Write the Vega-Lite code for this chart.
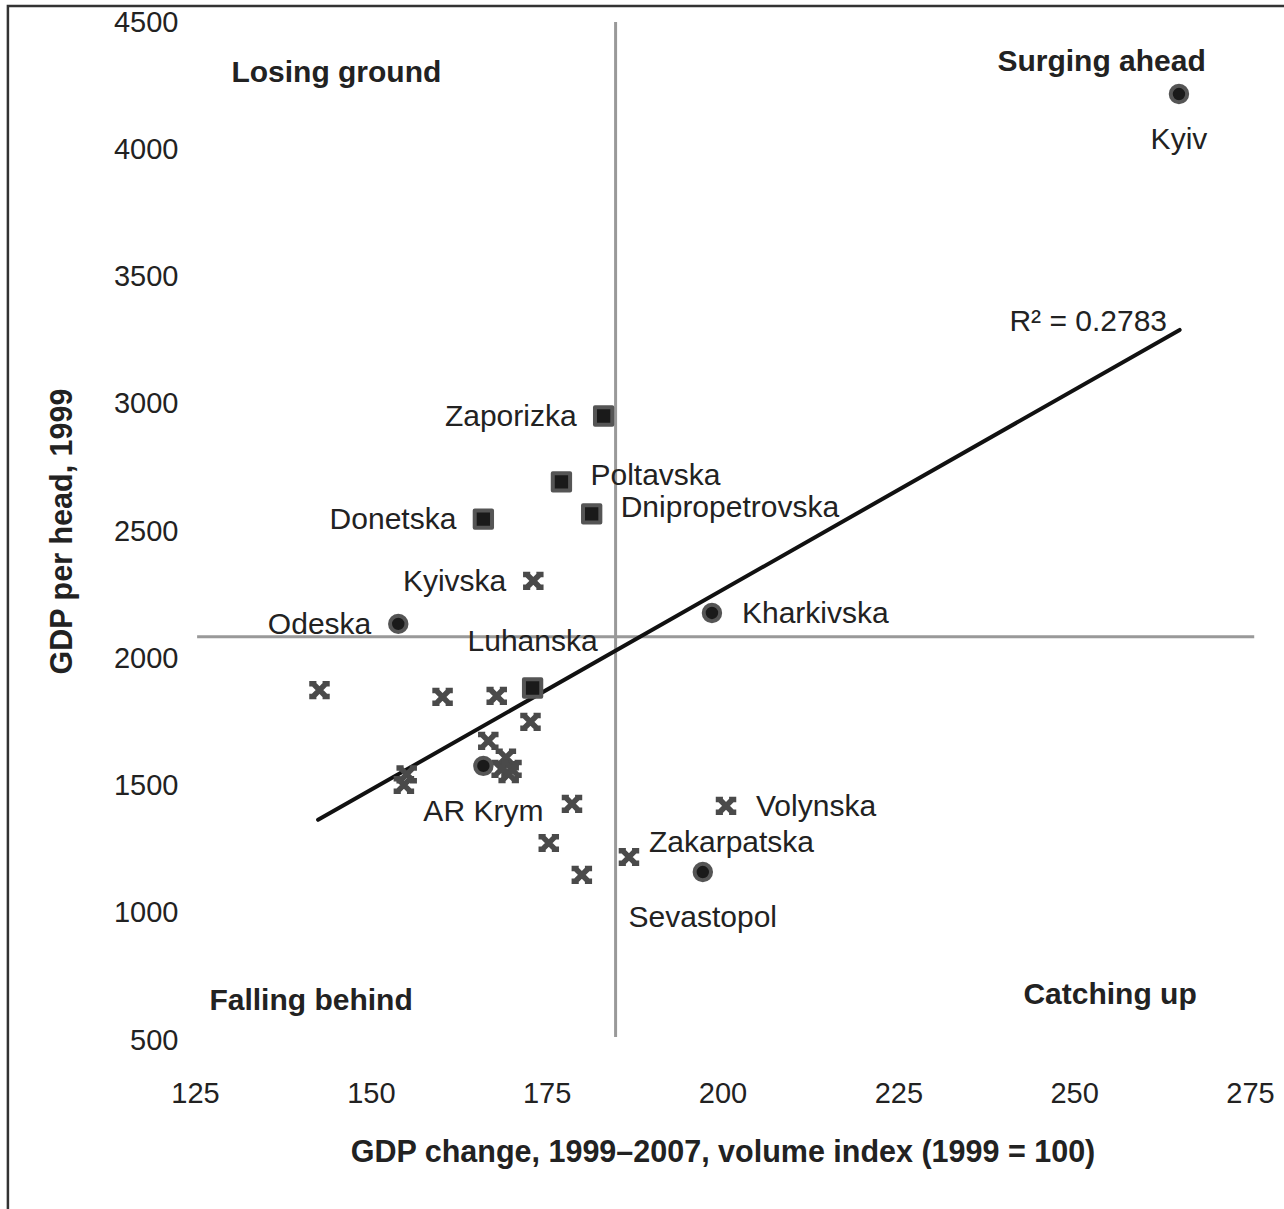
{
  "$schema": "https://vega.github.io/schema/vega-lite/v6.json",
  "width": 1055,
  "height": 1018,
  "autosize": "none",
  "padding": {"left": 195, "top": 22, "right": 34, "bottom": 169},
  "background": "white",
  "config": {
    "view": {"stroke": null},
    "font": "Liberation Sans",
    "axis": {"domain": false, "ticks": false, "tickSize": 0, "grid": false, "labelFlush": false, "labelOverlap": false, "labelBound": false, "format": "d", "labelFont": "Liberation Sans", "labelFontSize": 29, "labelColor": "#222", "titleFont": "Liberation Sans", "titleFontSize": 30.5, "titleFontWeight": "bold", "titleColor": "#222"}
  },
  "datasets": {
    "regions": [
      {"region": "Kyiv", "type": "circle", "growth": 264.9, "gdp": 4217, "pos": "below"},
      {"region": "Zaporizka", "type": "square", "growth": 183.1, "gdp": 2952, "pos": "left"},
      {"region": "Poltavska", "type": "square", "growth": 177.1, "gdp": 2693, "pos": "upright"},
      {"region": "Dnipropetrovska", "type": "square", "growth": 181.4, "gdp": 2567, "pos": "upright"},
      {"region": "Donetska", "type": "square", "growth": 166.0, "gdp": 2547, "pos": "left"},
      {"region": "Kyivska", "type": "star", "growth": 173.1, "gdp": 2304, "pos": "left"},
      {"region": "Odeska", "type": "circle", "growth": 153.9, "gdp": 2135, "pos": "left"},
      {"region": "Kharkivska", "type": "circle", "growth": 198.5, "gdp": 2178, "pos": "right"},
      {"region": "Luhanska", "type": "square", "growth": 173.0, "gdp": 1883, "pos": "above"},
      {"region": "AR Krym", "type": "circle", "growth": 166.0, "gdp": 1577, "pos": "below"},
      {"region": "Volynska", "type": "star", "growth": 200.5, "gdp": 1420, "pos": "right"},
      {"region": "Zakarpatska", "type": "star", "growth": 186.7, "gdp": 1219, "pos": "upright2"},
      {"region": "Sevastopol", "type": "circle", "growth": 197.2, "gdp": 1160, "pos": "below"},
      {"region": "", "type": "star", "growth": 142.7, "gdp": 1875, "pos": "none"},
      {"region": "", "type": "star", "growth": 160.2, "gdp": 1848, "pos": "none"},
      {"region": "", "type": "star", "growth": 167.9, "gdp": 1852, "pos": "none"},
      {"region": "", "type": "star", "growth": 172.7, "gdp": 1750, "pos": "none"},
      {"region": "", "type": "star", "growth": 166.7, "gdp": 1675, "pos": "none"},
      {"region": "", "type": "star", "growth": 169.2, "gdp": 1610, "pos": "none"},
      {"region": "", "type": "star", "growth": 168.6, "gdp": 1565, "pos": "none"},
      {"region": "", "type": "star", "growth": 170.0, "gdp": 1565, "pos": "none"},
      {"region": "", "type": "star", "growth": 169.6, "gdp": 1545, "pos": "none"},
      {"region": "", "type": "star", "growth": 155.1, "gdp": 1544, "pos": "none"},
      {"region": "", "type": "star", "growth": 154.7, "gdp": 1502, "pos": "none"},
      {"region": "", "type": "star", "growth": 178.6, "gdp": 1428, "pos": "none"},
      {"region": "", "type": "star", "growth": 175.3, "gdp": 1274, "pos": "none"},
      {"region": "", "type": "star", "growth": 180.0, "gdp": 1149, "pos": "none"}
    ],
    "refs": [
      {"x1": 184.8, "x2": 184.8, "y1": 512, "y2": 4500},
      {"x1": 125.3, "x2": 275.6, "y1": 2084, "y2": 2084}
    ],
    "fit": [
      {"x1": 142.5, "x2": 265.0, "y1": 1365, "y2": 3290}
    ],
    "frame": [
      {"x1": 98.4, "x2": 292, "y1": -300, "y2": 4563}
    ],
    "quadrants": [
      {"label": "Losing ground", "growth": 145.1, "gdp": 4300},
      {"label": "Surging ahead", "growth": 253.9, "gdp": 4343},
      {"label": "Falling behind", "growth": 141.5, "gdp": 653},
      {"label": "Catching up", "growth": 255.1, "gdp": 677}
    ],
    "notes": [
      {"label": "R² = 0.2783", "growth": 263.2, "gdp": 3321}
    ]
  },
  "encoding": {
    "x": {"type": "quantitative", "scale": {"domain": [125, 275], "nice": false, "zero": false}, "title": "GDP change, 1999–2007, volume index (1999 = 100)", "axis": {"values": [125, 150, 175, 200, 225, 250, 275], "labelBaseline": "middle", "labelPadding": 53, "titleBaseline": "middle", "titleY": 112}},
    "y": {"type": "quantitative", "scale": {"domain": [500, 4500], "nice": false, "zero": false}, "title": "GDP per head, 1999", "axis": {"values": [500, 1000, 1500, 2000, 2500, 3000, 3500, 4000, 4500], "labelPadding": 17, "titleAngle": -90, "titleX": -133, "titleY": 509, "titleAlign": "center", "titleBaseline": "middle"}}
  },
  "layer": [
    {
      "data": {"name": "frame"},
      "mark": {"type": "rect", "fill": null, "stroke": "#333", "strokeWidth": 2.5},
      "encoding": {
        "x": {"field": "x1"},
        "x2": {"field": "x2"},
        "y": {"field": "y1"},
        "y2": {"field": "y2"}
      }
    },
    {
      "data": {"name": "refs"},
      "mark": {"type": "rule", "stroke": "#999", "strokeWidth": 3},
      "encoding": {
        "x": {"field": "x1"},
        "x2": {"field": "x2"},
        "y": {"field": "y1"},
        "y2": {"field": "y2"}
      }
    },
    {
      "data": {"name": "fit"},
      "mark": {"type": "rule", "stroke": "#111", "strokeWidth": 4, "strokeCap": "round"},
      "encoding": {
        "x": {"field": "x1"},
        "x2": {"field": "x2"},
        "y": {"field": "y1"},
        "y2": {"field": "y2"}
      }
    },
    {
      "data": {"name": "regions"},
      "transform": [{"filter": "datum.type == 'star'"}],
      "mark": {"type": "point", "filled": false, "shape": "M-0.6,-0.6L0.6,0.6M0.6,-0.6L-0.6,0.6M-1,-0.62H-0.3M0.3,-0.62H1M-1,0.62H-0.3M0.3,0.62H1", "size": 420, "stroke": "#4a4a4a", "strokeWidth": 5.5, "opacity": 1},
      "encoding": {
        "x": {"field": "growth"},
        "y": {"field": "gdp"}
      }
    },
    {
      "data": {"name": "regions"},
      "transform": [{"filter": "datum.type == 'circle'"}],
      "mark": {"type": "point", "filled": true, "shape": "circle", "size": 270, "fill": "#1a1a1a", "stroke": "#555", "strokeWidth": 4, "opacity": 1},
      "encoding": {
        "x": {"field": "growth"},
        "y": {"field": "gdp"}
      }
    },
    {
      "data": {"name": "regions"},
      "transform": [{"filter": "datum.type == 'square'"}],
      "mark": {"type": "point", "filled": true, "shape": "square", "size": 300, "fill": "#1a1a1a", "stroke": "#555", "strokeWidth": 4, "strokeJoin": "round", "opacity": 1},
      "encoding": {
        "x": {"field": "growth"},
        "y": {"field": "gdp"}
      }
    },
    {
      "data": {"name": "regions"},
      "transform": [{"filter": "datum.pos == 'left'"}],
      "mark": {"type": "text", "align": "right", "baseline": "middle", "dx": -27, "dy": 1, "fontSize": 30, "color": "#222"},
      "encoding": {
        "x": {"field": "growth"},
        "y": {"field": "gdp"},
        "text": {"field": "region"}
      }
    },
    {
      "data": {"name": "regions"},
      "transform": [{"filter": "datum.pos == 'right'"}],
      "mark": {"type": "text", "align": "left", "baseline": "middle", "dx": 30, "dy": 1, "fontSize": 30, "color": "#222"},
      "encoding": {
        "x": {"field": "growth"},
        "y": {"field": "gdp"},
        "text": {"field": "region"}
      }
    },
    {
      "data": {"name": "regions"},
      "transform": [{"filter": "datum.pos == 'upright'"}],
      "mark": {"type": "text", "align": "left", "baseline": "middle", "dx": 29, "dy": -6, "fontSize": 30, "color": "#222"},
      "encoding": {
        "x": {"field": "growth"},
        "y": {"field": "gdp"},
        "text": {"field": "region"}
      }
    },
    {
      "data": {"name": "regions"},
      "transform": [{"filter": "datum.pos == 'upright2'"}],
      "mark": {"type": "text", "align": "left", "baseline": "middle", "dx": 20, "dy": -14, "fontSize": 30, "color": "#222"},
      "encoding": {
        "x": {"field": "growth"},
        "y": {"field": "gdp"},
        "text": {"field": "region"}
      }
    },
    {
      "data": {"name": "regions"},
      "transform": [{"filter": "datum.pos == 'below'"}],
      "mark": {"type": "text", "align": "center", "baseline": "middle", "dy": 46, "fontSize": 30, "color": "#222"},
      "encoding": {
        "x": {"field": "growth"},
        "y": {"field": "gdp"},
        "text": {"field": "region"}
      }
    },
    {
      "data": {"name": "regions"},
      "transform": [{"filter": "datum.pos == 'above'"}],
      "mark": {"type": "text", "align": "center", "baseline": "middle", "dy": -46, "fontSize": 30, "color": "#222"},
      "encoding": {
        "x": {"field": "growth"},
        "y": {"field": "gdp"},
        "text": {"field": "region"}
      }
    },
    {
      "data": {"name": "quadrants"},
      "mark": {"type": "text", "align": "center", "baseline": "middle", "fontSize": 30, "fontWeight": "bold", "color": "#222"},
      "encoding": {
        "x": {"field": "growth"},
        "y": {"field": "gdp"},
        "text": {"field": "label"}
      }
    },
    {
      "data": {"name": "notes"},
      "mark": {"type": "text", "align": "right", "baseline": "middle", "fontSize": 30, "color": "#222"},
      "encoding": {
        "x": {"field": "growth"},
        "y": {"field": "gdp"},
        "text": {"field": "label"}
      }
    }
  ]
}
